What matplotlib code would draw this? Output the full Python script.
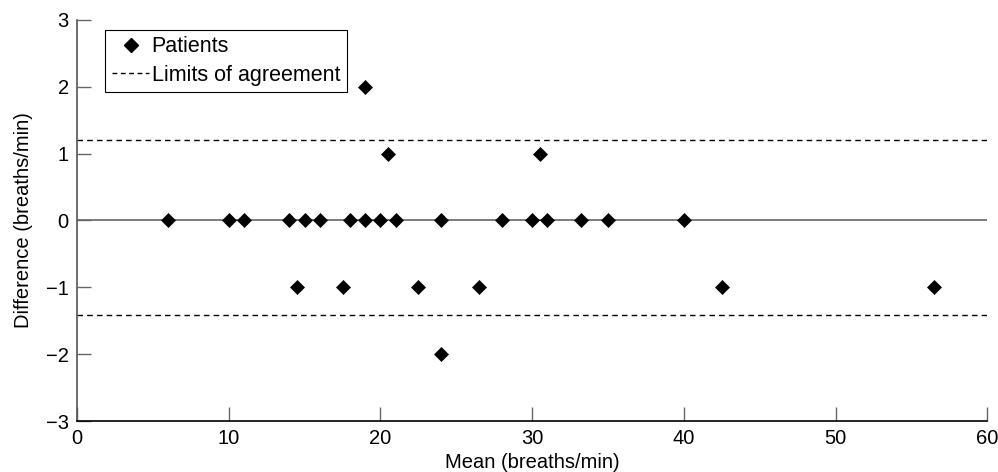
import matplotlib.pyplot as plt
from matplotlib.lines import Line2D

plt.rcParams["font.family"] = ["Liberation Sans", "DejaVu Sans"]
plt.rcParams["font.size"] = 14.5
plt.rcParams["axes.unicode_minus"] = True

# Bland-Altman data: mean vs difference (breaths/min)
mean_vals = [6, 10, 11, 14, 15, 16, 18, 19, 20, 21, 24, 28, 30, 31, 33.2, 35, 40,
             14.5, 17.5, 22.5, 26.5, 42.5, 56.5,
             19, 20.5, 30.5, 24]
diff_vals = [0, 0, 0, 0, 0, 0, 0, 0, 0, 0, 0, 0, 0, 0, 0, 0, 0,
             -1, -1, -1, -1, -1, -1,
             2, 1, 1, -2]
upper_limit = 1.2
lower_limit = -1.42
xticks = [0, 10, 20, 30, 40, 50, 60]
yticks = [-3, -2, -1, 0, 1, 2, 3]

fig = plt.figure(figsize=(9.98, 4.72), dpi=100)
ax = fig.add_axes([0.0772, 0.108, 0.912, 0.85])

ax.axhline(0, color="#666666", lw=1.2, zorder=1)
ax.axhline(upper_limit, color="black", lw=1.0, ls=(0, (4, 3)), zorder=1)
ax.axhline(lower_limit, color="black", lw=1.0, ls=(0, (4, 3)), zorder=1)
ax.plot(mean_vals, diff_vals, ls="none", marker="D", ms=7, color="black",
        mec="black", mew=0.5, zorder=3, clip_on=False)

ax.set_xlim(0, 60)
ax.set_ylim(-3, 3)
ax.set_xticks(xticks)
ax.set_yticks(yticks)
ax.tick_params(direction="in", length=10, width=1, color="#666666", pad=6)
for s in ["top", "right"]:
    ax.spines[s].set_visible(False)
ax.spines["bottom"].set_color("black")
ax.spines["left"].set_color("#555555")
ax.spines["bottom"].set_linewidth(1.2)
ax.spines["left"].set_linewidth(1.2)

ax.set_xlabel("Mean (breaths/min)", labelpad=3)
ax.set_ylabel("Difference (breaths/min)", labelpad=9)

handles = [
    Line2D([], [], ls="none", marker="D", ms=7, color="black"),
    Line2D([], [], color="black", lw=1.0, ls=(0, (3.5, 2.5))),
]
leg = ax.legend(handles, ["Patients", "Limits of agreement"], loc="upper left",
                bbox_to_anchor=(0.031, 0.975), fancybox=False, framealpha=1,
                edgecolor="black", fontsize=15.5, handlelength=1.75,
                handletextpad=0.1, borderpad=0.3, labelspacing=0.35,
                borderaxespad=0)
leg.get_frame().set_linewidth(0.8)

fig.savefig("out.png", dpi=100)
